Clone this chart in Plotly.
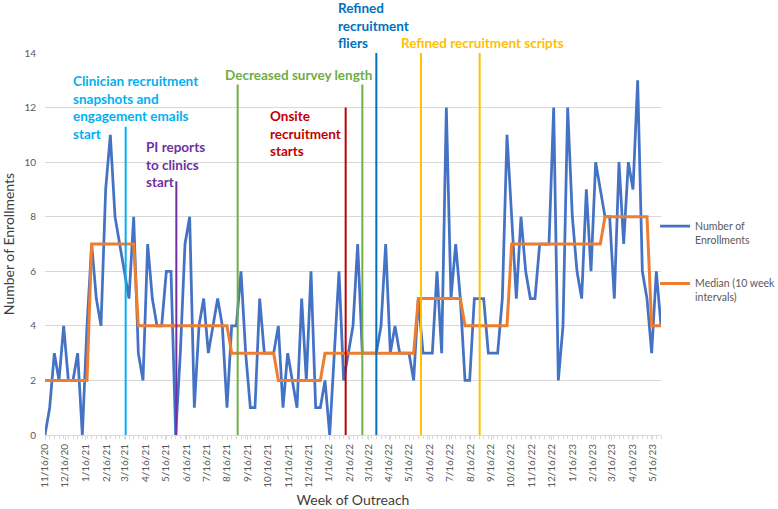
import pandas as pd
import plotly.graph_objects as go

# ---------------- data ----------------
start_week = "2020-11-16"
enrollments = [0, 1, 3, 2, 4, 2, 2, 3, 0, 4,
               7, 5, 4, 9, 11, 8, 7, 6, 5, 8,
               3, 2, 7, 5, 4, 4, 6, 6, 0, 3,
               7, 8, 1, 4, 5, 3, 4, 5, 4, 1,
               4, 4, 6, 3, 1, 1, 5, 3, 3, 3,
               4, 1, 3, 2, 1, 5, 2, 6, 1, 1,
               2, 0, 3, 6, 2, 3, 4, 7, 3, 3,
               3, 3, 4, 7, 3, 4, 3, 3, 3, 2,
               5, 3, 3, 3, 6, 3, 12, 5, 7, 5,
               2, 2, 5, 5, 5, 3, 3, 3, 5, 11,
               8, 5, 8, 6, 5, 5, 7, 7, 7, 12,
               2, 4, 12, 8, 6, 5, 9, 6, 10, 9,
               8, 8, 5, 10, 7, 10, 9, 13, 6, 5,
               3, 6, 4]
median_by_interval = [2, 7, 4, 4, 3, 2, 3, 3, 5, 4, 7, 7, 8, 4]
interval_weeks = 10

tick_dates = ["2020-11-16", "2020-12-16", "2021-01-16", "2021-02-16", "2021-03-16",
              "2021-04-16", "2021-05-16", "2021-06-16", "2021-07-16", "2021-08-16",
              "2021-09-16", "2021-10-16", "2021-11-16", "2021-12-16", "2022-01-16",
              "2022-02-16", "2022-03-16", "2022-04-16", "2022-05-16", "2022-06-16",
              "2022-07-16", "2022-08-16", "2022-09-16", "2022-10-16", "2022-11-16",
              "2022-12-16", "2023-01-16", "2023-02-16", "2023-03-16", "2023-04-16",
              "2023-05-16"]
tick_labels = ["11/16/20", "12/16/20", "1/16/21", "2/16/21", "3/16/21", "4/16/21",
               "5/16/21", "6/16/21", "7/16/21", "8/16/21", "9/16/21", "10/16/21",
               "11/16/21", "12/16/21", "1/16/22", "2/16/22", "3/16/22", "4/16/22",
               "5/16/22", "6/16/22", "7/16/22", "8/16/22", "9/16/22", "10/16/22",
               "11/16/22", "12/16/22", "1/16/23", "2/16/23", "3/16/23", "4/16/23",
               "5/16/23"]

event_names = ["Clinician", "PI", "Survey1", "Onsite", "Survey2", "Fliers", "Scripts1", "Scripts2"]
event_dates = ["2021-03-17", "2021-06-01", "2021-09-01", "2022-02-10", "2022-03-07",
               "2022-03-28", "2022-06-03", "2022-08-30"]
event_tops = [11.3, 9.3, 12.85, 12.0, 12.85, 14.0, 14.0, 14.0]

# ---------------- derived ----------------
weeks = pd.date_range(start_week, periods=len(enrollments), freq="7D")
median_series = [median_by_interval[i // interval_weeks] for i in range(len(enrollments))]

BLUE = "#4472C4"
ORANGE = "#ED7D31"
event_colors = {"Clinician": "#00B0F0", "PI": "#7030A0", "Survey1": "#70AD47",
                "Survey2": "#70AD47", "Onsite": "#C00000", "Fliers": "#0070C0",
                "Scripts1": "#FFC000", "Scripts2": "#FFC000"}
FONT = "Lato"

fig = go.Figure()
fig.add_trace(go.Scatter(x=weeks, y=enrollments, mode="lines",
                         name="Number of<br>Enrollments", legendgroup="a",
                         line=dict(color=BLUE, width=2.75)))
fig.add_trace(go.Scatter(x=weeks, y=median_series, mode="lines",
                         name="Median (10 week<br>intervals)", legendgroup="b",
                         line=dict(color=ORANGE, width=3)))

for name, d, top in zip(event_names, event_dates, event_tops):
    fig.add_shape(type="line", xref="x", yref="y", x0=d, x1=d, y0=0, y1=top,
                  line=dict(color=event_colors[name], width=2), layer="above")

# text blocks: (text, x-date of left edge, paper-y of block centre, colour)
PLOT_TOP, PLOT_H = 53, 382
def py(px):
    return (PLOT_TOP + PLOT_H - px) / PLOT_H

notes = [
    ("Clinician recruitment<br>snapshots and<br>engagement emails<br>start", "2020-12-25", py(107.5), "#00B0F0"),
    ("PI reports<br>to clinics<br>start", "2021-04-14", py(164), "#7030A0"),
    ("Decreased survey length", "2021-08-10", py(75), "#70AD47"),
    ("Onsite<br>recruitment<br>starts", "2021-10-17", py(133), "#C00000"),
    ("Refined<br>recruitment<br>fliers", "2022-01-27", py(25), "#0070C0"),
    ("Refined recruitment scripts", "2022-05-01", py(43), "#FFC000"),
]
for txt, xd, yv, col in notes:
    fig.add_annotation(x=xd, y=yv, xref="x", yref="paper", text="<b>" + txt + "</b>",
                       showarrow=False, xanchor="left", yanchor="middle", align="left",
                       font=dict(family=FONT, size=13.5, color=col))

fig.update_layout(
    width=778, height=509,
    margin=dict(l=45, r=117, t=53, b=74, autoexpand=False),
    plot_bgcolor="white", paper_bgcolor="white",
    font=dict(family=FONT, color="#595959"),
    legend=dict(xref="container", yref="container", x=0.842, xanchor="left",
                y=0.582, yanchor="top",
                font=dict(size=10.5, color="#595959"), valign="top",
                tracegroupgap=27, itemwidth=30, bgcolor="rgba(0,0,0,0)"),
    showlegend=True,
)
fig.update_xaxes(
    type="date", range=["2020-11-16", "2023-05-29"], automargin=False,
    tickmode="array", tickvals=tick_dates, ticktext=tick_labels, tickangle=-90,
    tickfont=dict(size=10, color="#595959"),
    showgrid=False, showline=True, linecolor="#D9D9D9", linewidth=1,
    ticks="outside", ticklen=4, tickcolor="#D9D9D9",
    minor=dict(ticks="outside", dtick=7 * 86400000, tick0="2020-11-16", ticklen=3, tickcolor="#D9D9D9"),
    title=dict(text="Week of Outreach", font=dict(size=14, color="#404040"), standoff=8),
    zeroline=False,
)
fig.update_yaxes(
    range=[0, 14], dtick=2, tick0=0, automargin=False,
    tickfont=dict(size=10, color="#595959"),
    showgrid=True, gridcolor="#D9D9D9", gridwidth=1,
    zeroline=False, showline=False, ticks="", ticklabelstandoff=8,
    title=dict(text="Number of Enrollments", font=dict(size=14, color="#404040"), standoff=6),
)

fig.write_html("out.html", config={"displayModeBar": False},
               post_script="document.body.style.margin='0';document.body.style.overflow='hidden';")
